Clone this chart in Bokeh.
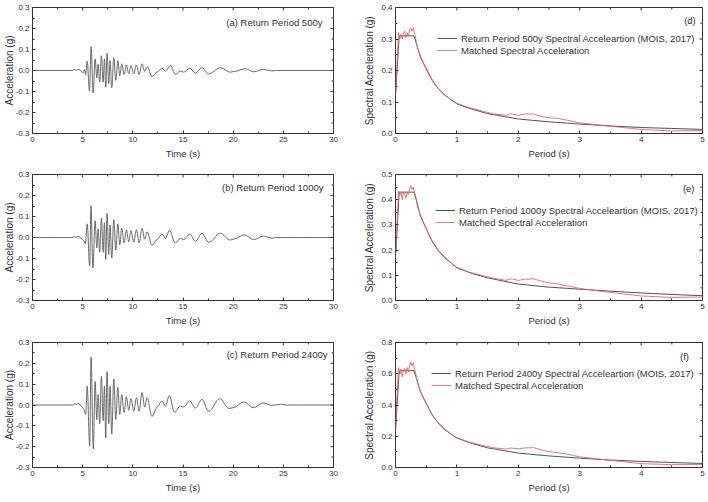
import numpy as np
from bokeh.plotting import figure
from bokeh.layouts import gridplot
from bokeh.models import (FixedTicker, NumeralTickFormatter, Label, Legend, LegendItem,
                          Range1d)
from bokeh.embed import file_html
from bokeh.resources import INLINE

FONT = "Liberation Sans"
TXT = "#333333"

# ---- acceleration time histories (successive peaks of the record) ----
time_500 = [0, 4.0, 4.12, 4.38, 4.61, 4.85, 5.04, 5.18, 5.3, 5.45, 5.68, 5.84, 6.04, 6.24,
            6.41, 6.54, 6.70, 6.87, 7.04, 7.17, 7.30, 7.43, 7.60, 7.73, 7.90, 8.10, 8.30,
            8.50, 8.70, 8.89, 9.13, 9.36, 9.59, 9.82, 10.09, 10.36, 10.62, 10.92, 11.18,
            11.42, 11.91, 12.41, 12.91, 13.24, 13.74, 14.24, 14.74, 15.07, 15.67, 16.23,
            16.89, 17.56, 18.72, 19.71, 20.05, 21.21, 22.04, 23.03, 23.86, 24.36, 30]
acc_500 = [0, 0, 0.004, 0.002, 0.006, -0.004, -0.012, 0.004, -0.02, 0.045, -0.098, 0.114,
           -0.107, 0.055, -0.035, 0.03, -0.055, 0.07, -0.055, 0.055, -0.08, 0.082, -0.063,
           0.047, -0.082, 0.06, -0.047, 0.047, -0.024, 0.032, -0.019, 0.027, -0.016, 0.024,
           -0.016, 0.027, -0.019, 0.032, -0.005, 0.019, -0.028, -0.008, 0.011, -0.003,
           0.024, -0.019, -0.003, -0.008, 0.011, -0.013, 0.013, -0.016, 0.013, -0.008,
           -0.005, 0.008, -0.006, 0.005, -0.002, 0, 0]

time_1000 = [0, 4.0, 4.15, 4.4, 4.6, 4.87, 5.1, 5.27, 5.45, 5.7, 5.83, 6.02, 6.24, 6.41,
             6.54, 6.70, 6.87, 7.04, 7.17, 7.30, 7.43, 7.60, 7.73, 7.90, 8.10, 8.30, 8.50,
             8.70, 8.89, 9.13, 9.36, 9.59, 9.82, 10.09, 10.36, 10.62, 10.92, 11.18, 11.42,
             11.91, 12.41, 12.91, 13.24, 13.64, 14.24, 14.74, 15.07, 15.67, 16.23, 16.89,
             17.56, 18.72, 19.71, 20.05, 21.1, 22.04, 23.03, 23.86, 24.36, 30]
acc_1000 = [0, 0, 0.004, 0.002, 0.006, -0.005, -0.015, -0.03, 0.065, -0.135, 0.152, -0.145,
            0.08, -0.05, 0.04, -0.07, 0.093, -0.07, 0.07, -0.105, 0.115, -0.08, 0.06,
            -0.098, 0.085, -0.06, 0.065, -0.035, 0.045, -0.025, 0.037, -0.02, 0.032,
            -0.022, 0.037, -0.025, 0.043, -0.008, 0.027, -0.037, -0.01, 0.016, -0.004,
            0.033, -0.026, -0.004, -0.01, 0.016, -0.018, 0.02, -0.023, 0.02, -0.012,
            -0.008, 0.013, -0.01, 0.007, -0.003, 0, 0]

time_2400 = [0, 4.0, 4.15, 4.4, 4.6, 4.87, 5.1, 5.3, 5.45, 5.70, 5.84, 6.06, 6.24, 6.41,
             6.54, 6.70, 6.87, 7.04, 7.17, 7.30, 7.43, 7.60, 7.73, 7.90, 8.10, 8.30, 8.50,
             8.70, 8.89, 9.13, 9.36, 9.59, 9.82, 10.09, 10.36, 10.62, 10.92, 11.18, 11.42,
             11.91, 12.41, 12.91, 13.24, 13.64, 14.15, 14.74, 15.07, 15.67, 16.23, 16.89,
             17.56, 18.65, 19.6, 20.05, 21.05, 22.0, 23.0, 23.86, 24.8, 25.3, 30]
acc_2400 = [0, 0, 0.006, 0.003, 0.008, -0.006, -0.02, -0.045, 0.09, -0.197, 0.23, -0.21,
            0.113, -0.07, 0.05, -0.09, 0.138, -0.075, 0.09, -0.158, 0.16, -0.09, 0.09,
            -0.14, 0.125, -0.07, 0.085, -0.045, 0.05, -0.035, 0.04, -0.025, 0.03, -0.03,
            0.035, -0.03, 0.06, -0.01, 0.035, -0.055, -0.01, 0.02, -0.005, 0.045, -0.035,
            -0.005, -0.01, 0.02, -0.015, 0.027, -0.03, 0.03, -0.017, -0.012, 0.015,
            -0.013, 0.01, -0.002, 0.004, 0, 0]

# ---- design (MOIS, 2017) and matched response spectra ----
period_design = [0.0, 0.06, 0.30, 0.35, 0.40, 0.50, 0.60, 0.70, 0.80, 1.00, 1.25, 1.50,
                 2.00, 2.50, 3.00, 3.50, 4.00, 4.50, 5.00]
sa_design_500 = [0.12, 0.31, 0.31, 0.28, 0.245, 0.205, 0.168, 0.142, 0.122, 0.094, 0.077,
                 0.063, 0.046, 0.037, 0.030, 0.024, 0.019, 0.016, 0.013]
sa_design_1000 = [0.17, 0.43, 0.43, 0.39, 0.34, 0.285, 0.233, 0.197, 0.17, 0.13, 0.107,
                  0.09, 0.065, 0.053, 0.045, 0.037, 0.03, 0.024, 0.019]
sa_design_2400 = [0.235, 0.62, 0.62, 0.56, 0.49, 0.41, 0.335, 0.283, 0.243, 0.188, 0.153,
                  0.126, 0.092, 0.074, 0.06, 0.048, 0.039, 0.032, 0.026]

period_matched = [0.0, 0.02, 0.05, 0.07, 0.09, 0.11, 0.13, 0.15, 0.17, 0.19, 0.21, 0.23,
                  0.25, 0.27, 0.29, 0.31, 0.33, 0.36, 0.38, 0.40, 0.45, 0.50, 0.60, 0.65,
                  0.70, 0.80, 0.90, 1.00, 1.20, 1.40, 1.60, 1.80, 1.88, 2.00, 2.10, 2.25,
                  2.40, 2.50, 2.64, 2.80, 3.00, 3.40, 4.00, 4.50, 5.00]
sa_matched_500 = [0.12, 0.2, 0.32, 0.30, 0.315, 0.30, 0.32, 0.325, 0.305, 0.32, 0.31, 0.33,
                  0.335, 0.325, 0.335, 0.32, 0.30, 0.27, 0.262, 0.25, 0.226, 0.207, 0.17,
                  0.152, 0.142, 0.124, 0.108, 0.096, 0.082, 0.072, 0.062, 0.058, 0.063,
                  0.057, 0.062, 0.062, 0.053, 0.05, 0.048, 0.042, 0.034, 0.025, 0.013,
                  0.008, 0.01]
sa_matched_1000 = [0.17, 0.28, 0.435, 0.42, 0.43, 0.40, 0.43, 0.42, 0.405, 0.43, 0.42,
                   0.44, 0.455, 0.44, 0.45, 0.43, 0.41, 0.37, 0.36, 0.34, 0.31, 0.286,
                   0.235, 0.218, 0.198, 0.172, 0.15, 0.132, 0.113, 0.1, 0.088, 0.08, 0.086,
                   0.08, 0.084, 0.086, 0.075, 0.07, 0.066, 0.058, 0.048, 0.035, 0.018,
                   0.012, 0.014]
sa_matched_2400 = [0.235, 0.42, 0.64, 0.6, 0.63, 0.58, 0.62, 0.635, 0.6, 0.64, 0.61, 0.65,
                   0.675, 0.65, 0.67, 0.63, 0.6, 0.54, 0.52, 0.495, 0.45, 0.41, 0.338,
                   0.31, 0.286, 0.248, 0.215, 0.19, 0.163, 0.143, 0.126, 0.118, 0.125,
                   0.12, 0.125, 0.127, 0.11, 0.102, 0.095, 0.085, 0.068, 0.05, 0.025,
                   0.018, 0.02]

wave_labels = ["(a) Return Period 500y", "(b) Return Period 1000y", "(c) Return Period 2400y"]
spec_tags = ["(d)", "(e)", "(f)"]
design_names = ["Return Period 500y Spectral Acceleartion (MOIS, 2017)",
                "Return Period 1000y Spectral Acceleartion (MOIS, 2017)",
                "Return Period 2400y Spectral Acceleartion (MOIS, 2017)"]
matched_name = "Matched Spectral Acceleration"

time_ticks = [0, 5, 10, 15, 20, 25, 30]
time_minor = [2.5, 7.5, 12.5, 17.5, 22.5, 27.5]
acc_ticks = [-0.3, -0.2, -0.1, 0.0, 0.1, 0.2, 0.3]
acc_minor = [-0.25, -0.15, -0.05, 0.05, 0.15, 0.25]
period_ticks = [0, 1, 2, 3, 4, 5]
period_minor = [0.5, 1.5, 2.5, 3.5, 4.5]
spec_ticks = [[0.0, 0.1, 0.2, 0.3, 0.4],
              [0.0, 0.1, 0.2, 0.3, 0.4, 0.5],
              [0.0, 0.2, 0.4, 0.6, 0.8]]
spec_minor = [[0.05, 0.15, 0.25, 0.35],
              [0.05, 0.15, 0.25, 0.35, 0.45],
              [0.1, 0.3, 0.5, 0.7]]
spec_max = [0.4, 0.5, 0.8]

row_h = [167, 167, 168]
row_top = [7, 7, 8]
row_bottom = [34, 34, 35]


def frame_axes(p, xt, xm, yt, ym, xlabel, ylabel, ylabel_standoff):
    for ax in (p.xaxis[0], p.yaxis[0]):
        ax.major_tick_in = 3
        ax.major_tick_out = 0
        ax.minor_tick_in = 2
        ax.minor_tick_out = 0
        ax.axis_line_color = None
        ax.major_tick_line_color = TXT
        ax.minor_tick_line_color = TXT
        ax.major_label_text_font = FONT
        ax.major_label_text_font_size = "8px"
        ax.major_label_text_color = TXT
        ax.axis_label_text_font = FONT
        ax.axis_label_text_font_style = "normal"
        ax.axis_label_text_color = TXT
        ax.major_label_standoff = 3
        ax.axis_label_standoff = 3
    p.yaxis[0].axis_label_standoff = ylabel_standoff
    p.xaxis[0].ticker = FixedTicker(ticks=xt, minor_ticks=xm)
    p.yaxis[0].ticker = FixedTicker(ticks=yt, minor_ticks=ym)
    p.xaxis[0].formatter = NumeralTickFormatter(format="0")
    p.yaxis[0].formatter = NumeralTickFormatter(format="0.0")
    p.xaxis[0].axis_label = xlabel
    p.yaxis[0].axis_label = ylabel
    p.xaxis[0].axis_label_text_font_size = "9.5px"
    p.yaxis[0].axis_label_text_font_size = "10px"


def edge_ticks(p, xt, xm, yt, ym, xr, yr, fw, fh):
    # inward tick marks on the top and right edges of the frame
    px_x = (xr[1] - xr[0]) / fw
    px_y = (yr[1] - yr[0]) / fh
    for ticks, length in ((xt, 3), (xm, 2)):
        p.segment(x0=ticks, y0=[yr[1]] * len(ticks), x1=ticks,
                  y1=[yr[1] - length * px_y] * len(ticks), line_color=TXT, line_width=1)
    for ticks, length in ((yt, 3), (ym, 2)):
        p.segment(x0=[xr[1]] * len(ticks), y0=ticks, x1=[xr[1] - length * px_x] * len(ticks),
                  y1=ticks, line_color=TXT, line_width=1)


def base_figure(h, top, bottom, left, right, xr, yr):
    p = figure(width=354, height=h, x_range=Range1d(*xr), y_range=Range1d(*yr),
               output_backend="svg", toolbar_location=None, tools="",
               min_border_top=top, min_border_bottom=bottom,
               min_border_left=left, min_border_right=right)
    p.grid.visible = False
    p.outline_line_color = TXT
    p.outline_line_width = 1
    p.background_fill_color = "white"
    p.border_fill_color = "white"
    return p


def wave_curve(p, t, a):
    # smooth swing between successive peaks: cubic segments with flat tangents at each peak
    t = np.asarray(t, float)
    a = np.asarray(a, float)
    dt = np.diff(t)
    p.bezier(x0=t[:-1], y0=a[:-1], x1=t[1:], y1=a[1:],
             cx0=t[:-1] + dt * 0.36, cy0=a[:-1], cx1=t[1:] - dt * 0.36, cy1=a[1:],
             line_color="#5a5a5a", line_width=0.9)


waves = [(time_500, acc_500), (time_1000, acc_1000), (time_2400, acc_2400)]
label_pos = [(28.9, 0.229), (29.0, 0.238), (29.4, 0.243)]
design = [sa_design_500, sa_design_1000, sa_design_2400]
matched = [sa_matched_500, sa_matched_1000, sa_matched_2400]
tag_pos = [(4.89, 0.359), (4.87, 0.444), (4.78, 0.71)]
legend_loc = [(42, 77), (40, 72), (36, 76)]

rows = []
for i in range(3):
    fh = row_h[i] - row_top[i] - row_bottom[i]
    # time history panel
    xr, yr = (0, 30), (-0.3, 0.3)
    pw = base_figure(row_h[i], row_top[i], row_bottom[i], 32, 21, xr, yr)
    wave_curve(pw, waves[i][0], waves[i][1])
    frame_axes(pw, time_ticks, time_minor, acc_ticks, acc_minor,
               "Time (s)", "Acceleration (g)", -2)
    edge_ticks(pw, time_ticks, time_minor, acc_ticks, acc_minor, xr, yr, 301, fh)
    pw.add_layout(Label(x=label_pos[i][0], y=label_pos[i][1], text=wave_labels[i],
                        text_align="right", text_baseline="middle",
                        text_font=FONT, text_font_size="9.5px", text_color=TXT))

    # response spectrum panel
    xr, yr = (0, 5), (0, spec_max[i])
    ps = base_figure(row_h[i], row_top[i], row_bottom[i], 41, 6, xr, yr)
    r_design = ps.line(period_design, design[i], line_color="#404040", line_width=0.9)
    r_match = ps.line(period_matched, matched[i], line_color="#e36a6a", line_width=0.9)
    frame_axes(ps, period_ticks, period_minor, spec_ticks[i], spec_minor[i],
               "Period (s)", "Spectral Acceleration (g)", 3)
    edge_ticks(ps, period_ticks, period_minor, spec_ticks[i], spec_minor[i], xr, yr, 307, fh)
    ps.add_layout(Label(x=tag_pos[i][0], y=tag_pos[i][1], text=spec_tags[i],
                        text_align="right", text_baseline="middle",
                        text_font=FONT, text_font_size="9.5px", text_color=TXT))
    legend = Legend(items=[LegendItem(label=design_names[i], renderers=[r_design]),
                           LegendItem(label=matched_name, renderers=[r_match])],
                    location=legend_loc[i], border_line_color=None,
                    background_fill_alpha=0, padding=0, margin=0, spacing=0,
                    glyph_width=20, glyph_height=12, label_height=12,
                    label_standoff=4, label_text_font=FONT,
                    label_text_font_size="9.5px", label_text_color=TXT)
    ps.add_layout(legend)
    rows.append([pw, ps])

grid = gridplot(rows, toolbar_location=None)

with open("out.html", "w") as f:
    f.write(file_html(grid, INLINE))
